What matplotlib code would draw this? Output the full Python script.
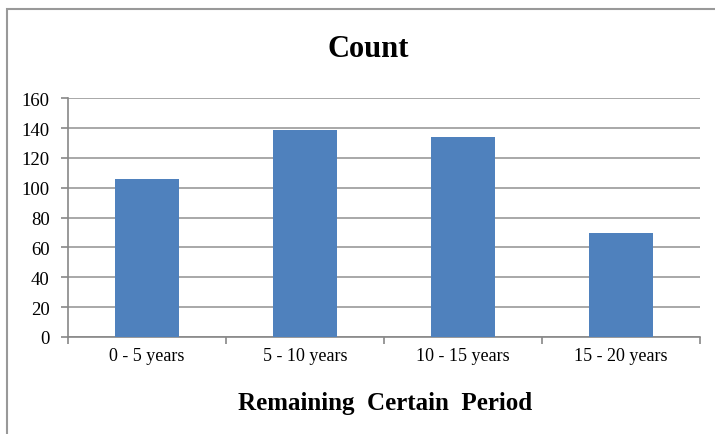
import numpy as np
import matplotlib.pyplot as plt
from matplotlib.patches import Rectangle

categories = ['0 - 5 years', '5 - 10 years', '10 - 15 years', '15 - 20 years']
counts = [106, 139, 134, 70]
y_ticks = [0, 20, 40, 60, 80, 100, 120, 140, 160]

plt.rcParams['font.family'] = ['Liberation Serif', 'DejaVu Serif']

fig = plt.figure(figsize=(7.15, 4.35), dpi=100)
ax = fig.add_axes([0.095, 0.223, 0.884, 0.549])

x = np.arange(len(categories))
ax.bar(x, counts, width=0.4, color='#4F81BD', zorder=3)

ax.set_xlim(-0.5, len(categories) - 0.5)
ax.set_ylim(0, 160)
ax.set_yticks(y_ticks)
ax.yaxis.grid(True, color='#999999', linewidth=1.2, zorder=0)

# category labels centred, tick marks at boundaries
ax.set_xticks(x)
ax.set_xticklabels(categories, fontsize=13)
ax.set_xticks(np.arange(-0.5, len(categories)), minor=True)
ax.tick_params(axis='x', which='major', length=0, pad=7)
ax.tick_params(axis='x', which='minor', length=5, color='#888888', width=1.2)
ax.tick_params(axis='y', length=5, color='#888888', width=1.2, labelsize=13.5, pad=8)

for s in ['top', 'right']:
    ax.spines[s].set_visible(False)
for s in ['left', 'bottom']:
    ax.spines[s].set_color('#888888')
    ax.spines[s].set_linewidth(1.2)

fig.text(0.515, 0.887, 'Count', ha='center', va='center', fontsize=22, fontweight='bold')
fig.text(0.538, 0.072, 'Remaining  Certain  Period', ha='center', va='center',
         fontsize=18, fontweight='bold')

# outer chart border (cut at right and bottom)
fig.patches.append(Rectangle((7 / 715, -0.05), 1.0, 1 - 10 / 435 + 0.05,
                             transform=fig.transFigure, fill=False,
                             edgecolor='#999999', linewidth=1.5))

fig.savefig('out.png', dpi=100)
